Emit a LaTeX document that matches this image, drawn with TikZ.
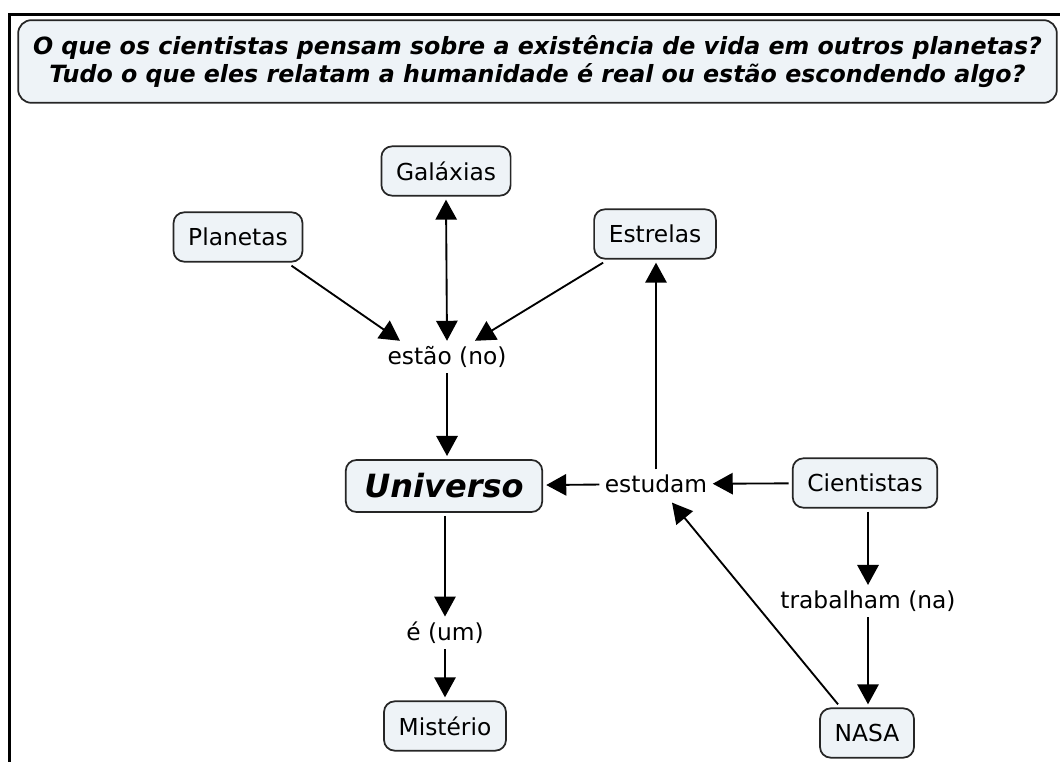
\documentclass[tikz,border=0pt]{standalone}
\usepackage{fontspec}
\setmainfont{DejaVu Sans}
\usetikzlibrary{arrows.meta,calc}
\definecolor{boxfill}{HTML}{EEF3F7}
\definecolor{boxline}{HTML}{262626}
\begin{document}
\begin{tikzpicture}[x=0.75pt,y=-0.75pt,
  concept/.style={draw=boxline, line width=1.3pt, rounded corners=8pt, fill=boxfill,
    font=\fontsize{17.5}{20}\selectfont, inner xsep=11pt, inner ysep=0pt,
    minimum height=37pt, outer sep=3pt},
  link/.style={font=\fontsize{17.5}{20}\selectfont, inner sep=4pt, fill=white},
  conn/.style={line width=1.4pt, -{Triangle[length=15pt,width=16pt]}},
  dconn/.style={line width=1.4pt, {Triangle[length=15pt,width=16pt]}-{Triangle[length=15pt,width=16pt]}},
  titlebox/.style={draw=boxline, line width=1.3pt, rounded corners=10pt, fill=boxfill,
    minimum width=779pt, minimum height=62pt, align=center,
    font=\fontsize{17.8}{21}\selectfont\bfseries\itshape},
]
\useasboundingbox (0,0) rectangle (1060,762);
\draw[line width=2.4pt] (9.5,762) -- (9.5,14.5) -- (1060,14.5);

\node[titlebox] (title) at (537.5,61.5) {O que os cientistas pensam sobre a existência de vida em outros planetas?\\Tudo o que eles relatam a humanidade é real ou estão escondendo algo?};

\node[concept] (gal) at (446,171) {Galáxias};
\node[concept] (plan) at (238,237) {Planetas};
\node[concept] (estr) at (655,234) {Estrelas};
\node[concept, minimum height=39pt, inner xsep=14pt, font=\fontsize{24}{27}\selectfont\bfseries\itshape] (univ) at (444,486) {Universo};
\node[concept] (cient) at (865,483) {Cientistas};
\node[concept] (mist) at (445,726) {Mistério};
\node[concept] (nasa) at (867,733) {NASA};

\node[link] (estao) at (447,357) {estão (no)};
\node[link] (estud) at (656,484) {estudam};
\node[link] (trab) at (868,601) {trabalham (na)};
\node[link] (eum) at (445,633) {é (um)};

\draw[conn] ($(plan.south east)+(-15,0)$) -- ($(estao.north)+(-47,0)$);
\draw[conn] ($(estr.south west)+(13,0)$) -- ($(estao.north)+(28,0)$);
\draw[dconn] (gal.south) -- (estao.north);
\draw[conn] (estao.south) -- (estao.south |- univ.north);
\draw[conn] (estud) -- (univ);
\draw[conn] (cient) -- (estud);
\draw[conn] (estud.north) -- (estud.north |- estr.south);
\draw[conn] ($(nasa.north west)+(22,0)$) -- ($(estud.south)+(16,4)$);
\draw[conn] (trab.north |- cient.south) -- (trab.north);
\draw[conn] (trab.south) -- (trab.south |- nasa.north);
\draw[conn] (eum.north |- univ.south) -- (eum.north);
\draw[conn] (eum.south) -- (mist.north);
\end{tikzpicture}
\end{document}
